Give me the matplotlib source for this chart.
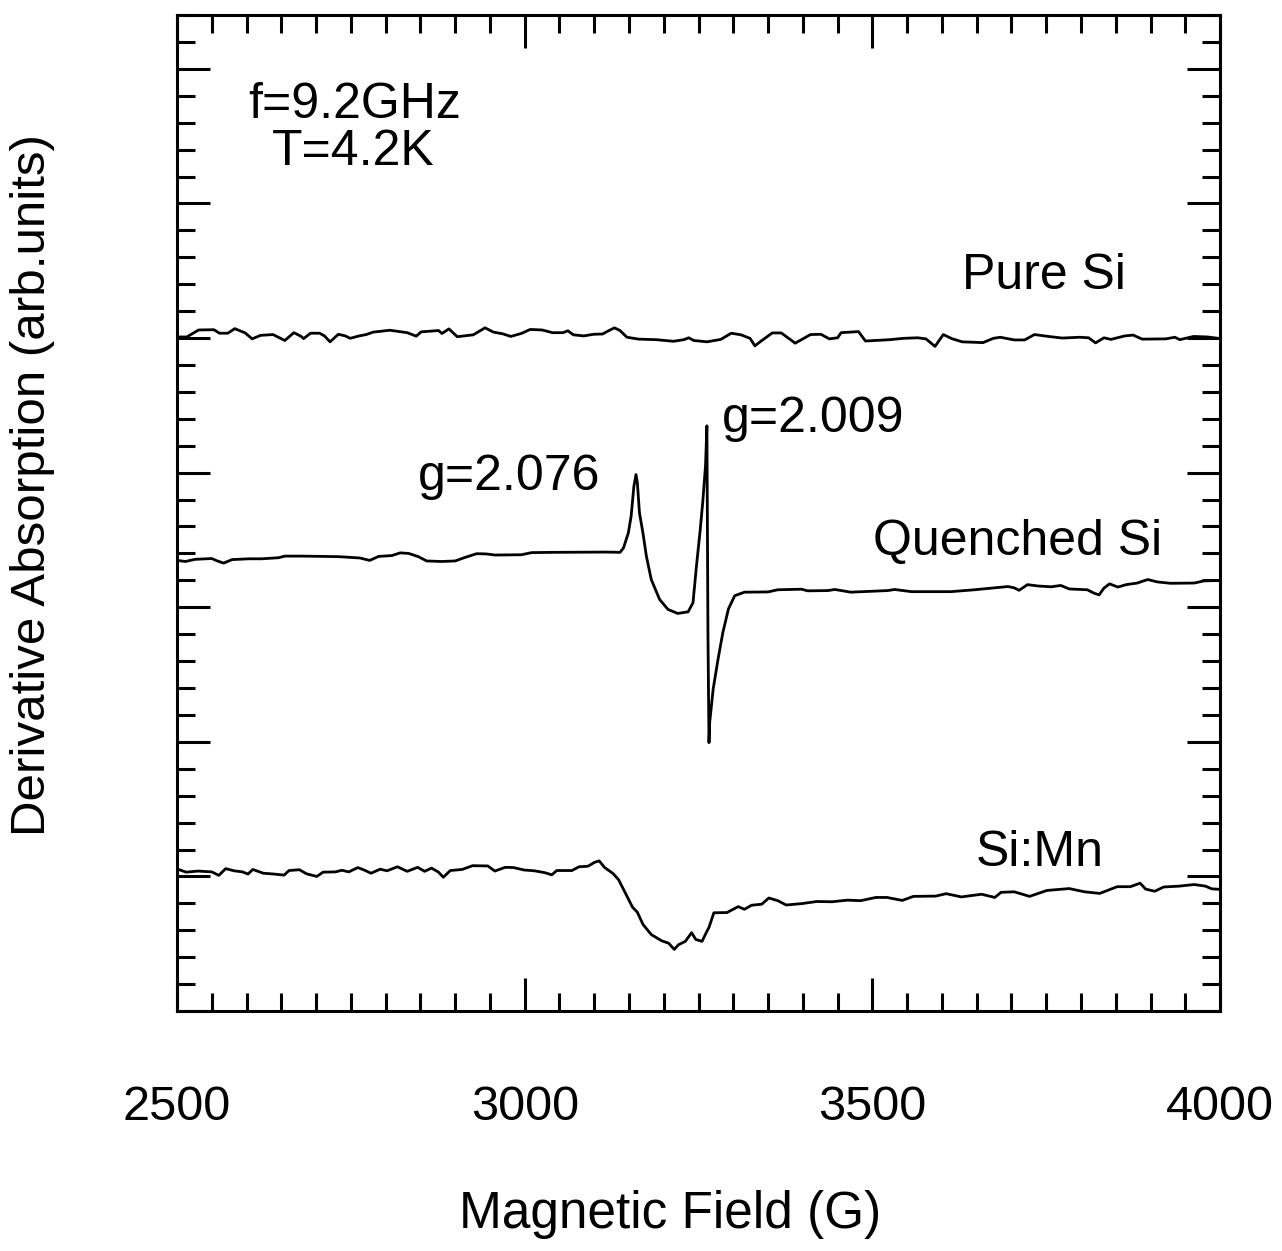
import matplotlib
matplotlib.use("Agg")
import matplotlib.pyplot as plt
from matplotlib.ticker import FixedLocator, MultipleLocator

# ESR derivative spectra, 9.2 GHz, 4.2 K
field_pure = [2500, 2514, 2531, 2553, 2561, 2573, 2583, 2598, 2608, 2620, 2638, 2655,
              2668, 2678, 2682, 2692, 2705, 2712, 2720, 2732, 2742, 2749, 2762, 2772,
              2782, 2806, 2831, 2844, 2851, 2876, 2881, 2891, 2903, 2926, 2943, 2955,
              2968, 2980, 2995, 3008, 3025, 3040, 3055, 3062, 3070, 3085, 3099, 3112,
              3119, 3129, 3137, 3147, 3164, 3189, 3214, 3229, 3236, 3243, 3262, 3282,
              3297, 3311, 3324, 3331, 3339, 3356, 3369, 3379, 3389, 3411, 3426, 3438,
              3450, 3455, 3480, 3490, 3525, 3545, 3565, 3577, 3590, 3602, 3614, 3629,
              3659, 3674, 3684, 3704, 3719, 3733, 3753, 3773, 3798, 3811, 3821, 3833,
              3843, 3863, 3875, 3888, 3922, 3935, 3942, 3962, 3982, 4000]
signal_pure = [25.04, 25.04, 25.30, 25.31, 25.18, 25.18, 25.35, 25.19, 24.97, 25.10, 25.13, 24.91,
               25.20, 25.07, 24.98, 25.18, 25.18, 25.08, 24.86, 25.14, 25.08, 24.99, 25.08, 25.13,
               25.22, 25.29, 25.20, 25.07, 25.23, 25.28, 25.17, 25.34, 25.05, 25.12, 25.38, 25.22,
               25.16, 25.06, 25.17, 25.32, 25.30, 25.20, 25.20, 25.27, 25.12, 25.08, 25.14, 25.15,
               25.25, 25.38, 25.28, 25.03, 24.96, 24.94, 24.88, 24.94, 25.01, 24.91, 24.86, 24.95,
               25.18, 25.12, 24.99, 24.71, 24.87, 25.19, 25.19, 25.00, 24.81, 25.13, 25.14, 24.97,
               25.01, 25.20, 25.24, 24.89, 24.94, 24.99, 25.01, 24.97, 24.69, 25.13, 24.98, 24.86,
               24.83, 24.99, 25.03, 24.93, 24.93, 25.13, 25.06, 25.00, 25.03, 25.01, 24.82, 25.01,
               24.95, 25.08, 25.11, 24.96, 24.97, 25.03, 24.94, 25.06, 25.04, 24.98]

field_quenched = [2500, 2512, 2526, 2550, 2557, 2567, 2579, 2603, 2622, 2646, 2655, 2679,
                  2732, 2763, 2777, 2790, 2809, 2821, 2833, 2847, 2859, 2880, 2900, 2914,
                  2931, 2945, 2957, 2995, 3010, 3043, 3118, 3137, 3142, 3149, 3153, 3157,
                  3160, 3162, 3165, 3170, 3175, 3182, 3194, 3206, 3220, 3235, 3242, 3247,
                  3252, 3256, 3260, 3262, 3263.5, 3265, 3266, 3271, 3278, 3285, 3293, 3302,
                  3316, 3350, 3364, 3398, 3407, 3436, 3446, 3469, 3522, 3532, 3556, 3613,
                  3647, 3675, 3695, 3704, 3711, 3723, 3738, 3757, 3771, 3783, 3809, 3819,
                  3826, 3833, 3841, 3853, 3865, 3881, 3896, 3910, 3929, 3963, 3977, 3992, 4000]
signal_quenched = [16.74, 16.70, 16.78, 16.81, 16.73, 16.64, 16.77, 16.80, 16.80, 16.84, 16.90, 16.90,
                   16.88, 16.83, 16.74, 16.89, 16.92, 17.02, 17.00, 16.88, 16.72, 16.70, 16.72, 16.85,
                   16.99, 16.98, 16.94, 16.95, 17.03, 17.04, 17.05, 17.04, 17.20, 17.76, 18.38, 19.49,
                   19.93, 19.62, 18.51, 17.76, 16.89, 16.03, 15.29, 14.92, 14.77, 14.83, 15.17, 16.54,
                   17.78, 18.90, 20.26, 21.74, 14.00, 9.97, 10.72, 11.96, 13.07, 14.07, 14.94, 15.43,
                   15.56, 15.57, 15.65, 15.67, 15.61, 15.62, 15.66, 15.56, 15.62, 15.66, 15.58, 15.58,
                   15.65, 15.72, 15.77, 15.72, 15.63, 15.84, 15.79, 15.76, 15.81, 15.68, 15.65, 15.52,
                   15.46, 15.71, 15.87, 15.75, 15.84, 15.90, 16.03, 15.94, 15.89, 15.90, 15.98, 15.99, 16.00]

field_mn = [2500, 2513, 2530, 2550, 2560, 2570, 2582, 2594, 2602, 2609, 2624, 2639,
            2654, 2661, 2676, 2686, 2701, 2710, 2728, 2737, 2747, 2760, 2769, 2779,
            2792, 2802, 2817, 2831, 2846, 2856, 2866, 2876, 2883, 2893, 2910, 2925,
            2947, 2957, 2972, 2984, 2999, 3014, 3029, 3039, 3046, 3056, 3068, 3078,
            3091, 3100, 3107, 3115, 3127, 3135, 3145, 3155, 3162, 3170, 3182, 3197,
            3207, 3215, 3221, 3231, 3240, 3246, 3255, 3261, 3265, 3272, 3291, 3307,
            3316, 3326, 3341, 3351, 3364, 3376, 3398, 3420, 3442, 3464, 3483, 3505,
            3521, 3543, 3559, 3591, 3606, 3628, 3657, 3676, 3685, 3704, 3726, 3751,
            3783, 3805, 3827, 3852, 3871, 3885, 3893, 3906, 3919, 3941, 3963, 3979, 3988, 4000]
signal_mn = [5.28, 5.16, 5.20, 5.17, 5.04, 5.29, 5.21, 5.17, 5.09, 5.26, 5.12, 5.09,
             5.05, 5.22, 5.25, 5.10, 5.00, 5.16, 5.17, 5.23, 5.17, 5.33, 5.24, 5.12,
             5.27, 5.21, 5.36, 5.19, 5.34, 5.19, 5.31, 5.16, 4.97, 5.22, 5.26, 5.40,
             5.39, 5.20, 5.34, 5.33, 5.24, 5.21, 5.14, 5.06, 5.22, 5.22, 5.22, 5.36,
             5.38, 5.52, 5.58, 5.33, 5.11, 4.88, 4.37, 3.86, 3.67, 3.22, 2.84, 2.61,
             2.52, 2.29, 2.46, 2.59, 2.91, 2.66, 2.59, 2.91, 3.11, 3.65, 3.66, 3.88,
             3.78, 3.93, 3.97, 4.20, 4.10, 3.94, 3.99, 4.07, 4.06, 4.12, 4.10, 4.22,
             4.22, 4.11, 4.26, 4.27, 4.36, 4.24, 4.34, 4.22, 4.41, 4.43, 4.26, 4.48,
             4.55, 4.43, 4.37, 4.62, 4.62, 4.75, 4.53, 4.45, 4.61, 4.64, 4.70, 4.64, 4.54, 4.52]

x_ticks = [2500, 3000, 3500, 4000]
x_tick_labels = ["2500", "3000", "3500", "4000"]

# (x, y, text) for in-plot annotations, in data coordinates
annotations = [
    (2602, 33.17, "f=9.2GHz"),
    (2637, 31.43, "T=4.2K"),
    (3629, 26.82, "Pure Si"),
    (3284, 21.51, "g=2.009"),
    (2847, 19.35, "g=2.076"),
    (3501, 16.94, "Quenched Si"),
    (3648, 5.39, "Si:Mn"),
]

sans = ["Liberation Sans", "DejaVu Sans"]

fig = plt.figure(figsize=(12.82, 12.51), dpi=100)
ax = fig.add_axes([0.1381, 0.1918, 0.8136, 0.7962])

for fx, sy in [(field_pure, signal_pure), (field_quenched, signal_quenched), (field_mn, signal_mn)]:
    ax.plot(fx, sy, color="black", lw=2.0, solid_joinstyle="round", solid_capstyle="round")

ax.set_xlim(2500, 4000)
ax.set_ylim(0, 37)

ax.xaxis.set_major_locator(FixedLocator(x_ticks))
ax.set_xticklabels(x_tick_labels, fontfamily=sans, fontsize=35)
ax.xaxis.set_minor_locator(MultipleLocator(50))
ax.yaxis.set_major_locator(MultipleLocator(5))
ax.yaxis.set_minor_locator(MultipleLocator(1))

ax.tick_params(which="both", direction="in", top=True, right=True,
               labelleft=False, width=2.2, color="black")
ax.tick_params(which="major", length=24, pad=53)
ax.tick_params(which="minor", length=13)

for sp in ax.spines.values():
    sp.set_linewidth(2.2)

ax.set_xlabel("Magnetic Field (G)", fontfamily=sans, fontsize=37, va="baseline")
ax.xaxis.set_label_coords(0.473, -0.218)
ax.set_ylabel("Derivative Absorption (arb.units)", fontfamily=sans, fontsize=35.5)
ax.yaxis.set_label_coords(-0.117, 0.528)

for x, y, s in annotations:
    ax.text(x, y, s, ha="left", va="baseline", fontfamily=sans, fontsize=36)

fig.savefig("out.png", dpi=100)
